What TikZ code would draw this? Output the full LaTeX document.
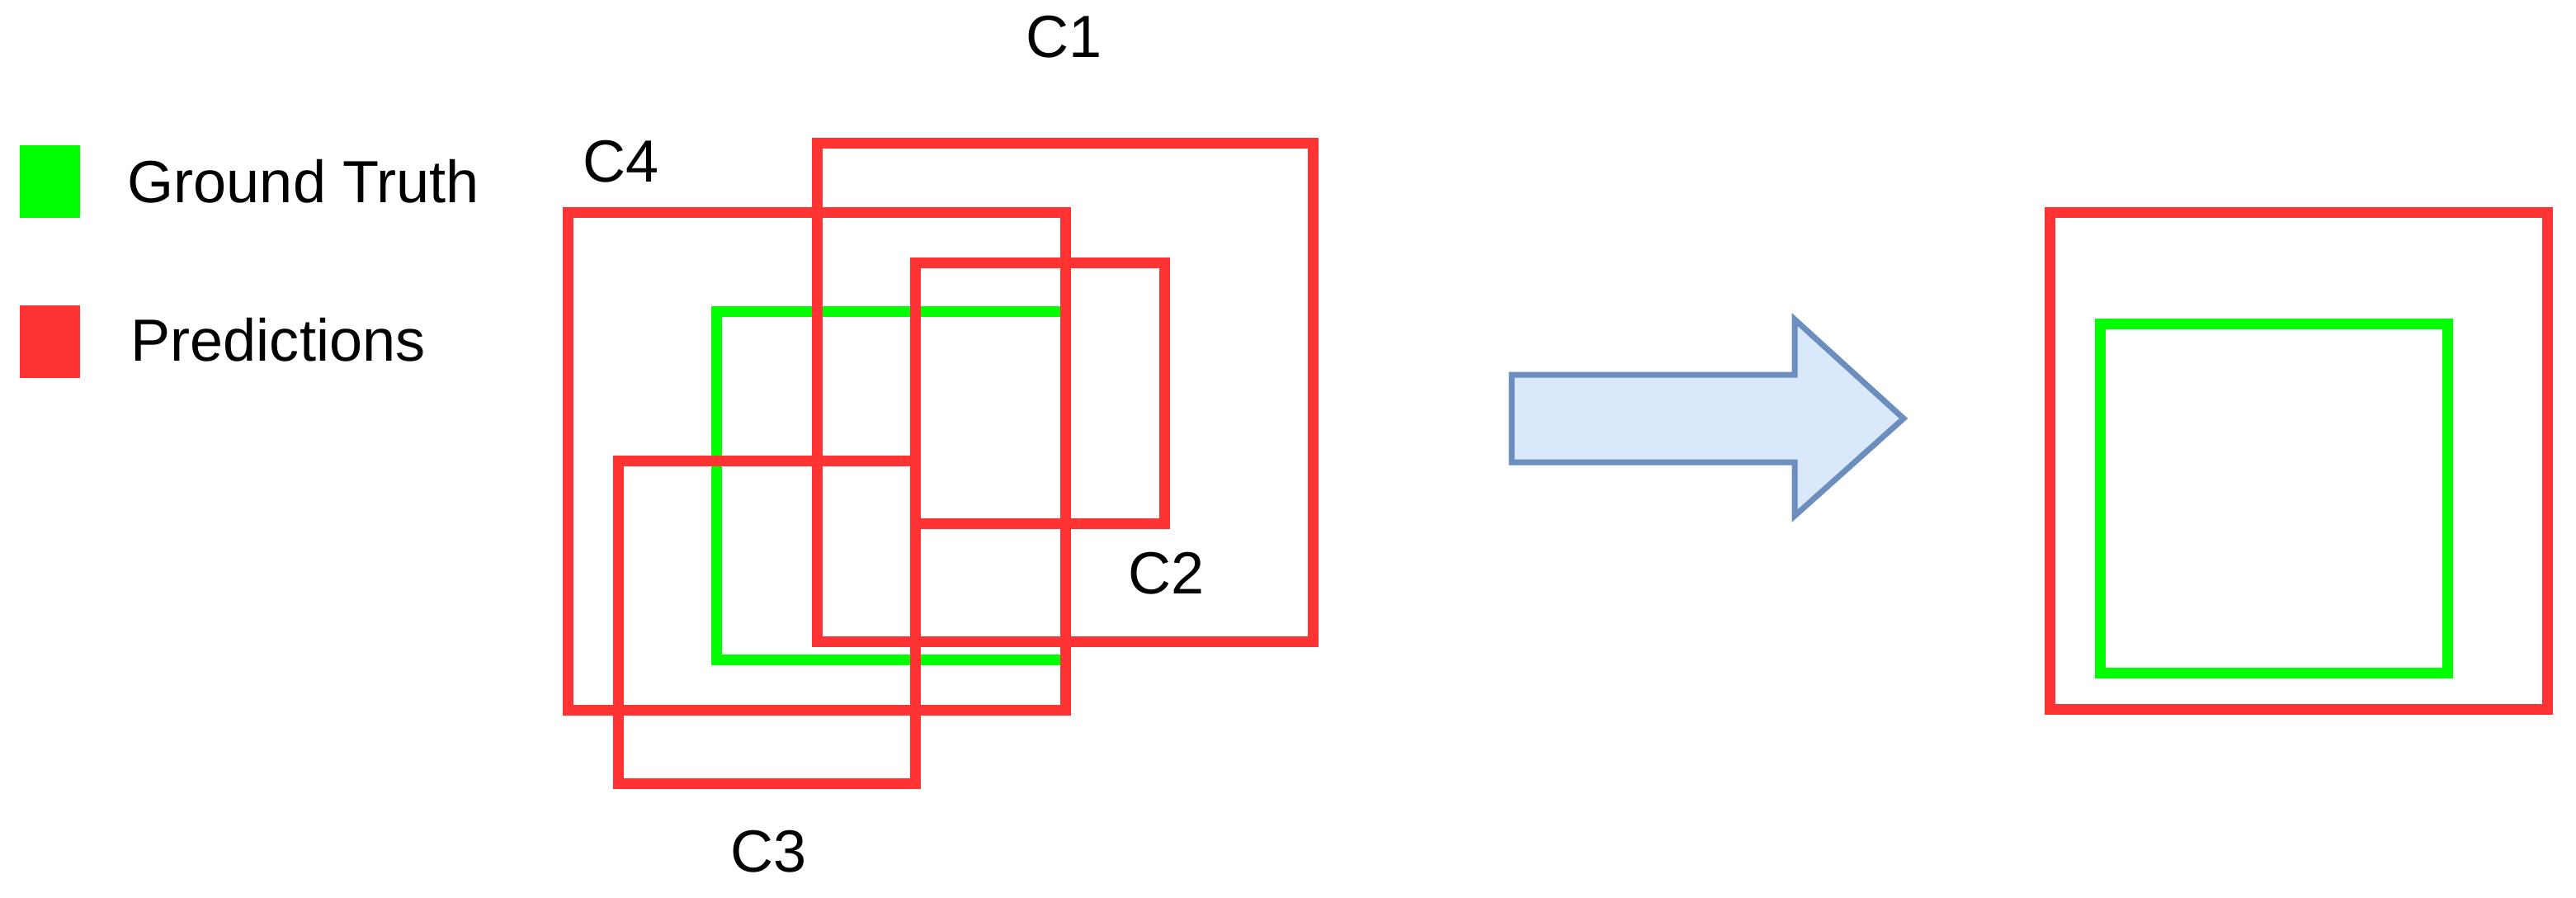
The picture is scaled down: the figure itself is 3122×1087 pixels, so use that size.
\documentclass[tikz,border=0pt]{standalone}
\usepackage{fontspec}
\setmainfont{Liberation Sans}
\usepackage{tikz}
\definecolor{predred}{HTML}{FF3333}
\definecolor{gtgreen}{HTML}{00FF00}
\definecolor{arrowline}{HTML}{6C8EBF}
\definecolor{arrowfill}{HTML}{DAE8FC}

\begin{document}
\begin{tikzpicture}[x=0.01cm,y=-0.01cm,pred box/.style={draw=predred,line width=0.13cm},gt box/.style={draw=gtgreen,line width=0.13cm},
	label node/.style={inner sep=0pt,font=\fontsize{20.5}{25}\selectfont},legend node/.style={label node,anchor=base west}]
		\useasboundingbox (0,0) rectangle (3122,1087);
		% legend
		\fill[gtgreen] (24,176) rectangle (97,264);
		\fill[predred] (24,370) rectangle (97,458);
		\node[legend node] (gt) at (154,245) {Ground Truth};
		\node[legend node] (pred) at (158,437) {Predictions};
		% ground truth under the candidates
		\draw[gt box] (868,377) rectangle (1291,799);
		\draw[pred box] (990,173) rectangle (1591,777);
		\draw[pred box] (688,257) rectangle (1291,860);
		\draw[pred box] (1109,318) rectangle (1411,634);
		\draw[pred box] (749,558) rectangle (1109,949);
		\node[label node] (c1) at (1290,45) {C1};
		\node[label node] (c2) at (1414,695) {C2};
		\node[label node] (c3) at (932,1032) {C3};
		\node[label node] (c4) at (753,196) {C4};
		% arrow
		\draw[draw=arrowline,fill=arrowfill,line width=0.07cm,line join=miter]
		(1832,454) -- (2175,454) -- (2175,387) -- (2307,507) -- (2175,625) -- (2175,560) -- (1832,560) -- cycle;
		% result
		\draw[pred box] (2484,257) rectangle (3087,859);
		\draw[gt box] (2545,392) rectangle (2966,815);
		\end{tikzpicture}
\end{document}
